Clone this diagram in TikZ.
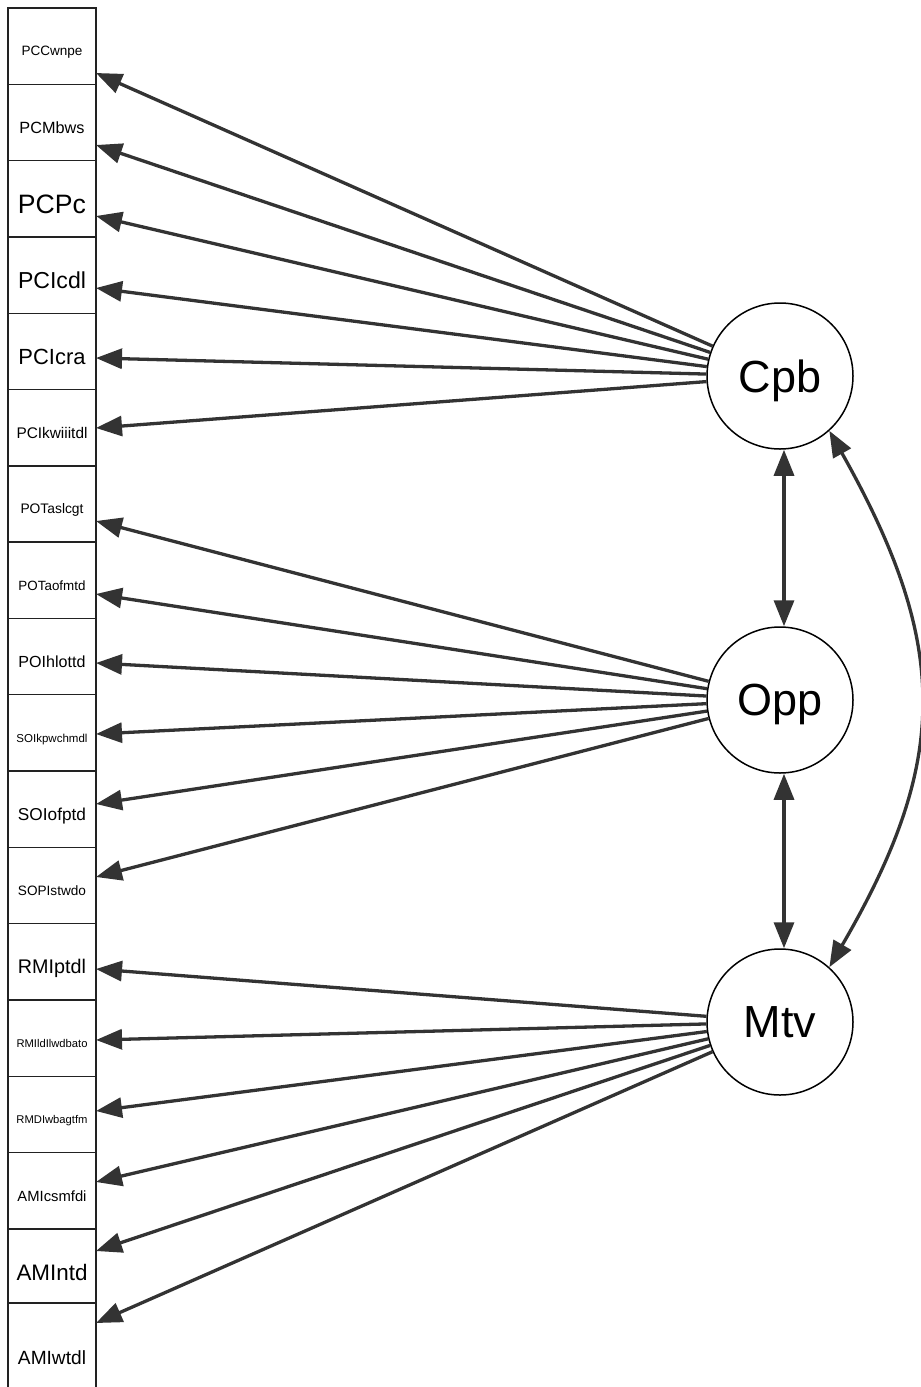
\documentclass[tikz,border=0pt]{standalone}
\usepackage{fontspec}
\setmainfont{Liberation Sans}
\usetikzlibrary{arrows.meta,calc}
\definecolor{edgegray}{HTML}{333333}
\definecolor{boxline}{HTML}{222222}

% indicator label: scaled to a given width, no depth, nudged slightly down
\newcommand{\ind}[2]{\raisebox{-5pt}[\height][0pt]{\resizebox{#1pt}{!}{\raisebox{0pt}[\height][0pt]{#2}}}}
\newcommand{\lat}[1]{\fontsize{45}{54}\selectfont\raisebox{0pt}[\height][0pt]{#1}}

\tikzset{
  indbox/.style={draw=boxline, line width=1.4pt, minimum width=88pt,
    minimum height=76.3pt, inner sep=0pt, fill=white},
  latent/.style={draw=black, line width=1.5pt, circle, minimum size=146pt,
    inner sep=0pt, fill=white},
  load/.style={draw=edgegray, line width=3.3pt,
    -{Triangle[length=26pt,width=20pt]}},
  cov/.style={draw=edgegray, line width=3.3pt,
    {Triangle[length=26pt,width=20pt]}-{Triangle[length=26pt,width=20pt]}}
}

\begin{document}
\begin{tikzpicture}[x=1pt,y=-1pt]
\useasboundingbox (0,0) rectangle (921,1387);
\clip (0,0) rectangle (921,1387);

% indicator boxes
\node[indbox] (b1)  at (52,46.15)   {\ind{61}{PCCwnpe}};
\node[indbox] (b2)  at (52,122.45)  {\ind{65}{PCMbws}};
\node[indbox] (b3)  at (52,198.75)  {\ind{68}{PCPc}};
\node[indbox] (b4)  at (52,275.05)  {\ind{68}{PCIcdl}};
\node[indbox] (b5)  at (52,351.35)  {\ind{67}{PCIcra}};
\node[indbox] (b6)  at (52,427.65)  {\ind{71}{PCIkwiiitdl}};
\node[indbox] (b7)  at (52,503.95)  {\ind{63}{POTaslcgt}};
\node[indbox] (b8)  at (52,580.25)  {\ind{67}{POTaofmtd}};
\node[indbox] (b9)  at (52,656.55)  {\ind{67}{POIhlottd}};
\node[indbox] (b10) at (52,732.85)  {\ind{71}{SOIkpwchmdl}};
\node[indbox] (b11) at (52,809.15)  {\ind{68}{SOIofptd}};
\node[indbox] (b12) at (52,885.45)  {\ind{68}{SOPIstwdo}};
\node[indbox] (b13) at (52,961.75)  {\ind{68}{RMIptdl}};
\node[indbox] (b14) at (52,1038.05) {\ind{71}{RMIldIlwdbato}};
\node[indbox] (b15) at (52,1114.35) {\ind{71}{RMDIwbagtfm}};
\node[indbox] (b16) at (52,1190.65) {\ind{69}{AMIcsmfdi}};
\node[indbox] (b17) at (52,1266.95) {\ind{71}{AMIntd}};
\node[indbox, minimum height=100pt] (b18) at (52,1352.8) {\ind{68}{AMIwtdl}};

% latent variables
\node[latent] (cpb) at (780,376)  {\lat{Cpb}};
\node[latent] (opp) at (780,700)  {\lat{Opp}};
\node[latent] (mtv) at (780,1022) {\lat{Mtv}};

% arrow tip points on the box edges
\coordinate (t1)  at (96,73);
\coordinate (t2)  at (96,145);
\coordinate (t3)  at (96,216);
\coordinate (t4)  at (96,288);
\coordinate (t5)  at (96,358);
\coordinate (t6)  at (96,428);
\coordinate (t7)  at (96,521);
\coordinate (t8)  at (96,594);
\coordinate (t9)  at (96,663);
\coordinate (t10) at (96,734);
\coordinate (t11) at (96,804);
\coordinate (t12) at (96,877);
\coordinate (t13) at (96,969);
\coordinate (t14) at (96,1040);
\coordinate (t15) at (96,1111);
\coordinate (t16) at (96,1182);
\coordinate (t17) at (96,1251);
\coordinate (t18) at (96,1323);

% loadings
\foreach \i in {1,...,6}   {\draw[load] (cpb) -- (t\i);}
\foreach \i in {7,...,12}  {\draw[load] (opp) -- (t\i);}
\foreach \i in {13,...,18} {\draw[load] (mtv) -- (t\i);}

% covariances
\draw[cov] ([xshift=4pt]cpb.south) -- ([xshift=4pt]opp.north);
\draw[cov] ([xshift=4pt]opp.south) -- ([xshift=4pt]mtv.north);
\draw[cov] (cpb.-48) .. controls (950,645) and (950,760) .. (mtv.48);
\end{tikzpicture}
\end{document}
